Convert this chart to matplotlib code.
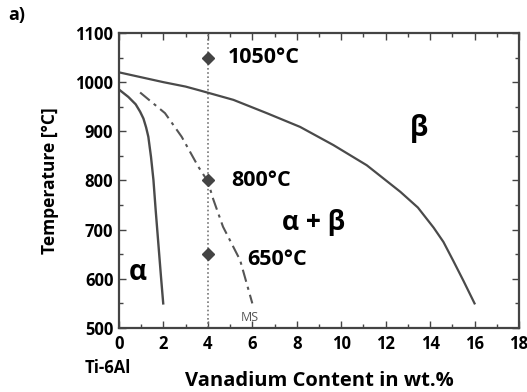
import matplotlib
matplotlib.use("Agg")
import matplotlib.pyplot as plt
from matplotlib.ticker import MultipleLocator

plt.rcParams['font.family'] = ['Open Sans', 'DejaVu Sans']

# beta transus (solid)
beta_x = [0, 1, 2, 3, 3.65, 5.15, 6.65, 8.15, 9.65, 11.15, 12.66, 13.45, 14.16, 14.6, 15.05, 15.5, 16.0]
beta_y = [1020, 1010, 1000, 991, 983, 964, 937, 909, 872, 831, 777, 745, 704, 675, 636, 596, 550]

# alpha transus (solid)
alpha_x = [0, 0.42, 0.75, 0.95, 1.1, 1.22, 1.32, 1.44, 1.55, 1.65, 1.77, 1.89, 1.99]
alpha_y = [985, 970, 955, 940, 926, 908, 889, 848, 801, 740, 672, 604, 550]

# martensite start (dash-dot)
ms_x = [0.95, 2.07, 2.82, 3.57, 4.0, 4.24, 4.68, 5.45, 6.0]
ms_y = [979, 937, 889, 828, 798, 762, 706, 638, 550]

# heat treatment points
pt_x = [4, 4, 4]
pt_y = [1050, 800, 650]
pt_labels = ['1050°C', '800°C', '650°C']
lbl_x = [4.9, 5.05, 5.75]
lbl_y = [1050, 800, 640]

fig = plt.figure(figsize=(5.27, 3.92), dpi=100)
ax = fig.add_axes([0.2258, 0.1633, 0.759, 0.7525])

line_c = '#4a4a4a'
ax.axvline(4, color='#777777', lw=1.2, ls=(0, (1, 1.5)))
ax.plot(beta_x, beta_y, color=line_c, lw=1.6)
ax.plot(alpha_x, alpha_y, color=line_c, lw=1.7)
ax.plot(ms_x, ms_y, color='#555555', lw=1.5, ls=(0, (6, 2.5, 1.5, 2.5)))
ax.plot(pt_x, pt_y, ls='none', marker='D', ms=6, color='#444444')

for x, y, t in zip(lbl_x, lbl_y, pt_labels):
    ax.text(x, y, t, fontsize=15.5, fontweight='bold', va='center', ha='left')

ax.text(13.5, 905, 'β', fontsize=20, fontweight='bold', ha='center', va='center')
ax.text(8.76, 714, 'α + β', fontsize=19, fontweight='bold', ha='center', va='center')
ax.text(0.83, 612, 'α', fontsize=20, fontweight='bold', ha='center', va='center')
ax.text(5.9, 521, 'MS', fontsize=9, color='#555555', ha='center', va='center')

ax.set_xlim(0, 18)
ax.set_ylim(500, 1100)
ax.xaxis.set_major_locator(MultipleLocator(2))
ax.xaxis.set_minor_locator(MultipleLocator(1))
ax.yaxis.set_major_locator(MultipleLocator(100))
ax.yaxis.set_minor_locator(MultipleLocator(50))
ax.tick_params(which='both', direction='in', top=True, right=True, color='#444444')
ax.tick_params(which='major', length=5, width=1)
ax.tick_params(which='minor', length=3, width=1)
ax.tick_params(axis='both', labelsize=12)
ax.tick_params(axis='x', pad=5)
ax.tick_params(axis='y', pad=4)
for lab in ax.get_xticklabels() + ax.get_yticklabels():
    lab.set_fontweight('bold')
for s in ax.spines.values():
    s.set_color('#444444')
    s.set_linewidth(1.6)

ax.set_ylabel('Temperature [°C]', fontsize=12.5, fontweight='bold', labelpad=12)
ax.set_xlabel('Vanadium Content in wt.%', fontsize=14.5, fontweight='bold', labelpad=13)
fig.text(0.015, 0.962, 'a)', fontsize=13, fontweight='bold', va='center')
fig.text(0.205, 0.061, 'Ti-6Al', fontsize=12, fontweight='bold', ha='center', va='center')

fig.savefig('out.png', dpi=100)
